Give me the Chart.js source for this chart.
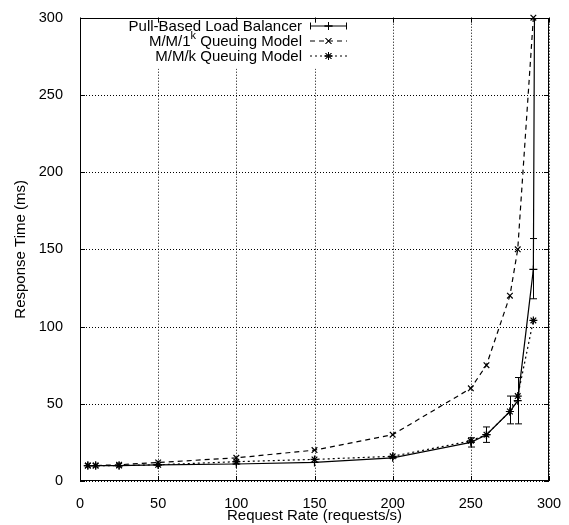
<!DOCTYPE html>
<html>
<head>
<meta charset="utf-8">
<script src="https://cdn.jsdelivr.net/npm/chart.js@4"></script>
<style>
  html, body { margin: 0; padding: 0; background: #fff; }
</style>
</head>
<body>
<canvas id="chart" width="569" height="525"></canvas>
<script>
// request rates (req/s) for the two models
const rates = [5, 10, 25, 50, 100, 150, 200, 250, 260, 275, 280, 290];
const mm1kTimes = [10, 10, 10.5, 12, 15, 20, 30, 60, 75, 120, 150, 300];
const mmkTimes = [10, 10, 10, 10.5, 12.5, 14, 16, 26, 30, 45, 55, 104];

// measured load balancer, with error bar low/high
const pullRates = [5, 10, 25, 50, 100, 150, 200, 250, 260, 275, 280, 290, 292];
const pullTimes = [10, 10, 10, 10.5, 11, 12, 15, 25, 30, 45, 52, 137, 600];
const pullLow = [null, null, null, null, null, null, null, 22, 25, 37, 37, 118, null];
const pullHigh = [null, null, null, null, null, null, null, 28, 35, 55, 67, 157, null];

const legendLabels = ['Pull-Based Load Balancer', 'M/M/1^k Queuing Model', 'M/M/k Queuing Model'];
const axisMin = 0, axisMax = 300, axisStep = 50;

const FONT = 'Liberation Sans, Arial, Helvetica, sans-serif';

function points(xs, ys) {
    return xs.map((x, i) => ({x: x, y: ys[i]}));
}

// draws text with a one-char superscript after '^'
function drawLegendText(ctx, label, right, y) {
    let parts = [[label, false]];
    const k = label.indexOf('^');
    if (k >= 0) {
        parts = [[label.slice(0, k), false], [label[k + 1], true], [label.slice(k + 2), false]];
    }
    const fontFor = (sup) => (sup ? '11px ' : '15px ') + FONT;
    let total = 0;
    parts.forEach(([t, sup]) => { ctx.font = fontFor(sup); total += ctx.measureText(t).width; });
    let x = right - total;
    ctx.textAlign = 'left';
    ctx.textBaseline = 'middle';
    parts.forEach(([t, sup]) => {
        ctx.font = fontFor(sup);
        ctx.fillText(t, x, sup ? y - 6 : y);
        x += ctx.measureText(t).width;
    });
}

const framePlugin = {
    id: 'frame',
    beforeDatasetsDraw(chart) {
        // dotted grid, one line per axis tick
        const {ctx, chartArea: a, scales: {x, y}} = chart;
        ctx.save();
        ctx.strokeStyle = '#000';
        ctx.lineWidth = 1;
        ctx.setLineDash([1, 2]);
        ctx.beginPath();
        x.ticks.forEach(t => {
            const px = Math.round(x.getPixelForValue(t.value)) + 0.5;
            ctx.moveTo(px, a.top); ctx.lineTo(px, a.bottom);
        });
        y.ticks.forEach(t => {
            const py = Math.round(y.getPixelForValue(t.value)) + 0.5;
            ctx.moveTo(a.left, py); ctx.lineTo(a.right, py);
        });
        ctx.stroke();
        ctx.restore();
    },
    afterDatasetsDraw(chart) {
        // error bars of the pull-based series
        const {ctx, chartArea: a, scales: {x, y}} = chart;
        ctx.save();
        ctx.beginPath();
        ctx.rect(a.left, a.top, a.right - a.left, a.bottom - a.top);
        ctx.clip();
        ctx.strokeStyle = '#000';
        ctx.lineWidth = 1;
        pullRates.forEach((r, i) => {
            if (pullLow[i] == null) return;
            const px = Math.round(x.getPixelForValue(r)) + 0.5;
            const lo = y.getPixelForValue(pullLow[i]);
            const hi = y.getPixelForValue(pullHigh[i]);
            ctx.beginPath();
            ctx.moveTo(px, lo); ctx.lineTo(px, hi);
            ctx.moveTo(px - 3.5, lo); ctx.lineTo(px + 3.5, lo);
            ctx.moveTo(px - 3.5, hi); ctx.lineTo(px + 3.5, hi);
            ctx.stroke();
        });
        ctx.restore();
    },
    afterDraw(chart) {
        const {ctx, chartArea: a, scales: {x, y}} = chart;
        ctx.save();

        // opaque key box
        ctx.fillStyle = '#fff';
        ctx.fillRect(125, a.top + 1, 228, 50);

        ctx.fillStyle = '#000';
        ctx.strokeStyle = '#000';
        ctx.lineWidth = 1;
        const sx0 = 310, sx1 = 347, smid = (sx0 + sx1) / 2;
        chart.data.datasets.forEach((ds, i) => {
            const ly = 26.5 + i * 15;
            drawLegendText(ctx, legendLabels[i], 302, ly);
            ctx.setLineDash(ds.borderDash || []);
            ctx.beginPath();
            ctx.moveTo(sx0, ly - 0.5); ctx.lineTo(sx1, ly - 0.5);
            ctx.stroke();
            ctx.setLineDash([]);
            if (i === 0) {
                ctx.beginPath();
                ctx.moveTo(sx0 + 0.5, ly - 4); ctx.lineTo(sx0 + 0.5, ly + 3);
                ctx.moveTo(sx1 - 0.5, ly - 4); ctx.lineTo(sx1 - 0.5, ly + 3);
                ctx.stroke();
            }
            Chart.helpers.drawPoint(ctx, {pointStyle: ds.pointStyle, radius: ds.pointRadius, borderWidth: 1, rotation: 0}, smid, ly - 0.5);
            ctx.stroke();
        });

        // full border
        ctx.strokeStyle = '#000';
        ctx.lineWidth = 1;
        ctx.strokeRect(Math.round(a.left) + 0.5, Math.round(a.top) + 0.5,
            Math.round(a.right - a.left) - 1, Math.round(a.bottom - a.top) - 1);

        // inward ticks on all four sides
        const len = 5;
        ctx.beginPath();
        for (let v = axisMin; v <= axisMax; v += axisStep) {
            const px = Math.round(x.getPixelForValue(v)) + 0.5;
            ctx.moveTo(px, a.bottom); ctx.lineTo(px, a.bottom - len);
            ctx.moveTo(px, a.top); ctx.lineTo(px, a.top + len);
            const py = Math.round(y.getPixelForValue(v)) + 0.5;
            ctx.moveTo(a.left, py); ctx.lineTo(a.left + len, py);
            ctx.moveTo(a.right, py); ctx.lineTo(a.right - len, py);
        }
        ctx.stroke();
        ctx.restore();
    }
};

function axis(title, isY) {
    return {
        type: 'linear',
        min: axisMin,
        max: axisMax,
        afterFit(s) {
            if (isY) s.width = 80; else s.height = 44;
        },
        ticks: {
            stepSize: axisStep,
            color: '#000',
            padding: isY ? 9 : 6,
            font: {family: FONT, size: 14.5}
        },
        grid: {display: false},
        border: {display: false},
        title: {
            display: true,
            text: title,
            color: '#000',
            font: {family: FONT, size: 15},
            padding: isY ? {top: 12, bottom: 0} : {top: -2, bottom: 0}
        }
    };
}

window.addEventListener('load', () => {
    const ctx = document.getElementById('chart').getContext('2d');
    new Chart(ctx, {
        type: 'line',
        data: {
            datasets: [{
                label: legendLabels[0],
                data: points(pullRates, pullTimes),
                borderColor: '#000',
                borderWidth: 1.2,
                pointStyle: 'cross',
                pointRadius: 4,
                pointBorderColor: '#000',
                pointBorderWidth: 1.2,
                fill: false,
                tension: 0
            }, {
                label: legendLabels[1],
                data: points(rates, mm1kTimes),
                borderColor: '#000',
                borderWidth: 1.2,
                borderDash: [5, 4],
                pointStyle: 'crossRot',
                pointRadius: 4,
                pointBorderColor: '#000',
                pointBorderWidth: 1.2,
                fill: false,
                tension: 0,
                clip: 8
            }, {
                label: legendLabels[2],
                data: points(rates, mmkTimes),
                borderColor: '#000',
                borderWidth: 1.2,
                borderDash: [2, 3],
                pointStyle: 'star',
                pointRadius: 4,
                pointBorderColor: '#000',
                pointBorderWidth: 1.2,
                fill: false,
                tension: 0,
                clip: 8
            }]
        },
        options: {
            responsive: false,
            animation: false,
            layout: {padding: {left: 0, right: 20, top: 12, bottom: 0}},
            plugins: {
                legend: {display: false},
                tooltip: {enabled: false}
            },
            scales: {
                x: axis('Request Rate (requests/s)', false),
                y: axis('Response Time (ms)', true)
            }
        },
        plugins: [framePlugin]
    });
});
</script>
</body>
</html>
